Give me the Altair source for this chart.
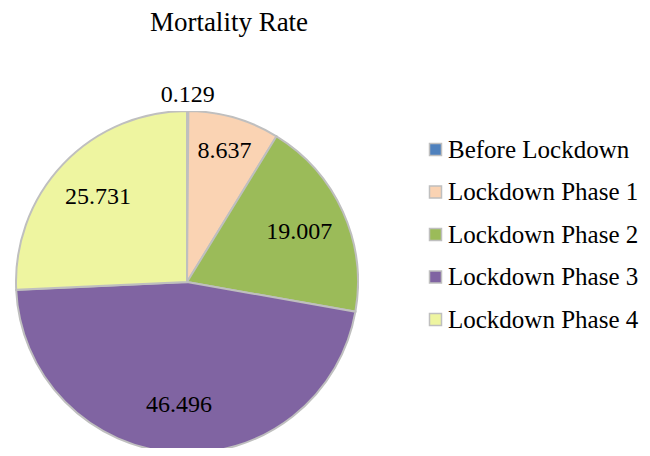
import altair as alt
import pandas as pd

categories = ["Before Lockdown", "Lockdown Phase 1", "Lockdown Phase 2", "Lockdown Phase 3", "Lockdown Phase 4"]
values = [0.129, 8.637, 19.007, 46.496, 25.731]
colors = ["#4F81BD", "#FAD3B3", "#9BBB59", "#8064A2", "#EEF5A0"]

df = pd.DataFrame({"category": categories, "value": values, "order": list(range(len(categories)))})

FONT = "Liberation Serif"
R = 171
CX, CY = 172, 171

color = alt.Color(
    "category:N",
    scale=alt.Scale(domain=categories, range=colors),
    sort=categories,
    legend=alt.Legend(
        title=None,
        orient="none",
        legendX=408,
        legendY=26,
        labelFont=FONT,
        labelFontSize=25,
        labelColor="black",
        labelLimit=0,
        symbolType="square",
        symbolSize=144,
        symbolStrokeColor="#BFBFBF",
        symbolStrokeWidth=1.5,
        symbolOpacity=1,
        rowPadding=16.5,
        labelOffset=0,
        padding=0,
    ),
)

arcs = alt.Chart(df).mark_arc(radius=R, stroke="#BFBFBF", strokeWidth=2, clip=True).encode(
    theta=alt.Theta("value:Q", stack=True),
    order=alt.Order("order:Q"),
    color=color,
    x=alt.value(CX),
    y=alt.value(CY),
)

labels = alt.Chart(df).transform_window(
    cum="sum(value)", sort=[alt.SortField("order")], frame=[None, 0]
).transform_joinaggregate(
    total="sum(value)"
).transform_calculate(
    ang="2 * PI * (datum.cum - datum.value / 2) / datum.total",
    r="datum.value < 1 ? 187 : (datum.value < 10 ? 136 : 123)",
).mark_text(font=FONT, fontSize=24, color="black").encode(
    text=alt.Text("value:Q", format=".3f"),
    theta=alt.Theta("ang:Q", scale=None),
    radius=alt.Radius("r:Q", scale=None),
    x=alt.value(CX),
    y=alt.value(CY),
)

chart = alt.layer(arcs, labels).resolve_scale(theta="independent").properties(
    width=344,
    height=337,
    padding={"left": 7, "top": 1, "right": 0, "bottom": 0},
    title=alt.TitleParams(
        "Mortality Rate",
        font=FONT,
        fontSize=27,
        fontWeight="normal",
        color="black",
        anchor="middle",
        dx=42,
        offset=46,
    ),
).configure_view(stroke=None)

chart.save("out.html", embed_options={"renderer": "svg", "actions": False})
